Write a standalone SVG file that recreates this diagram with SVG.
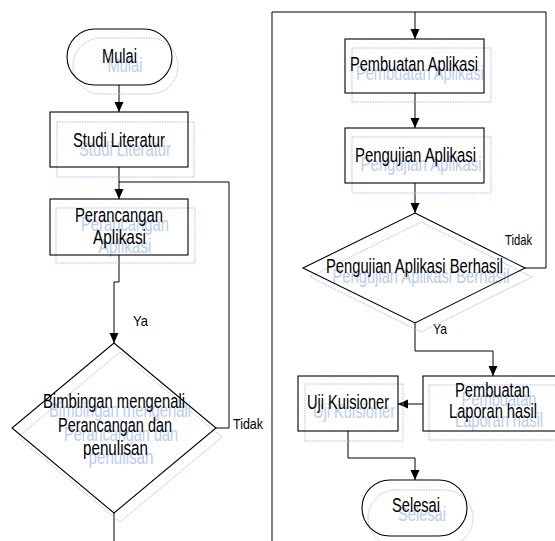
<svg xmlns="http://www.w3.org/2000/svg" width="555" height="541" viewBox="0 0 555 541">
<defs>
<marker id="ah" viewBox="0 0 10 10" refX="10" refY="5" markerWidth="10" markerHeight="10" markerUnits="userSpaceOnUse" orient="auto">
<path d="M0,0.5 L10,5 L0,9.5 Z" fill="#000"/>
</marker>
</defs>
<style>
.shape{fill:none;stroke:#000;stroke-width:1.1}
.ghost{fill:none;stroke:#a9c0e6;stroke-width:1;stroke-dasharray:1.5 1}
.t{font-family:"Liberation Sans",Arial,sans-serif;font-size:20.5px;fill:#000;text-anchor:middle}
.gt{font-family:"Liberation Sans",Arial,sans-serif;font-size:20.5px;fill:#b9cdec;text-anchor:middle}
.lbl{font-family:"Liberation Sans",Arial,sans-serif;font-size:14.5px;fill:#000}
.c{fill:none;stroke:#000;stroke-width:1}
.a{marker-end:url(#ah)}
</style>
<rect width="555" height="541" fill="#fff"/>

<g id="connectors">
<path class="c a" d="M119,85 V112"/>
<path class="c a" d="M119,167 V199"/>
<path class="c" d="M216,428 H229 V182 H119"/>
<path class="c a" d="M119,255 V282 H114 V343"/>
<path class="c" d="M114,513 V541"/>
<path class="c a" d="M272,541 V12 H415 V39"/>
<path class="c" d="M525,268 H546 V12 H415"/>
<path class="c a" d="M415,93 V128"/>
<path class="c a" d="M415,183 V213"/>
<path class="c a" d="M415,323 V351 H493 V376"/>
<path class="c a" d="M423,404 H398"/>
<path class="c a" d="M348,431 V458 H415 V480"/>
<text class="lbl" x="133" y="326" textLength="15" lengthAdjust="spacingAndGlyphs">Ya</text>
<text class="lbl" x="233" y="429" textLength="30" lengthAdjust="spacingAndGlyphs">Tidak</text>
<text class="lbl" x="505" y="245" textLength="27" lengthAdjust="spacingAndGlyphs">Tidak</text>
<text class="lbl" x="433" y="334" textLength="14" lengthAdjust="spacingAndGlyphs">Ya</text>
</g>

<g id="mulai">
<rect class="ghost" x="73" y="38" width="105" height="56" rx="28"/>
<text class="gt" x="125" y="72" textLength="35" lengthAdjust="spacingAndGlyphs">Mulai</text>
<rect class="shape" x="67" y="29" width="105" height="56" rx="28"/>
<text class="t" x="119.5" y="63" textLength="35" lengthAdjust="spacingAndGlyphs">Mulai</text>
</g>

<g id="studi">
<rect class="ghost" x="57" y="122" width="137" height="55"/>
<text class="gt" x="125" y="156" textLength="92" lengthAdjust="spacingAndGlyphs">Studi Literatur</text>
<rect class="shape" x="50" y="112" width="138" height="55"/>
<text class="t" x="119" y="147" textLength="92" lengthAdjust="spacingAndGlyphs">Studi Literatur</text>
</g>

<g id="perancangan">
<rect class="ghost" x="56" y="208" width="139" height="55"/>
<text class="gt" x="125" y="231" textLength="88" lengthAdjust="spacingAndGlyphs">Perancangan</text>
<text class="gt" x="125" y="253" textLength="53" lengthAdjust="spacingAndGlyphs">Aplikasi</text>
<rect class="shape" x="50" y="199" width="138" height="56"/>
<text class="t" x="119" y="222" textLength="88" lengthAdjust="spacingAndGlyphs">Perancangan</text>
<text class="t" x="119.5" y="244" textLength="53" lengthAdjust="spacingAndGlyphs">Aplikasi</text>
</g>

<g id="bimbingan">
<polygon class="ghost" points="120,352 222,437 120,522 18,437"/>
<text class="gt" x="120" y="417" textLength="142" lengthAdjust="spacingAndGlyphs">Bimbingan mengenali</text>
<text class="gt" x="121" y="441" textLength="114" lengthAdjust="spacingAndGlyphs">Perancangan dan</text>
<text class="gt" x="121" y="464" textLength="65" lengthAdjust="spacingAndGlyphs">penulisan</text>
<polygon class="shape" points="114,343 216,428 114,513 12,428"/>
<text class="t" x="114" y="408" textLength="142" lengthAdjust="spacingAndGlyphs">Bimbingan mengenali</text>
<text class="t" x="115" y="432" textLength="114" lengthAdjust="spacingAndGlyphs">Perancangan dan</text>
<text class="t" x="115.5" y="455" textLength="65" lengthAdjust="spacingAndGlyphs">penulisan</text>
</g>

<g id="pembuatan-aplikasi">
<rect class="ghost" x="352" y="48" width="139" height="54"/>
<text class="gt" x="420" y="80" textLength="128" lengthAdjust="spacingAndGlyphs">Pembuatan Aplikasi</text>
<rect class="shape" x="345" y="39" width="139" height="54"/>
<text class="t" x="414" y="71" textLength="128" lengthAdjust="spacingAndGlyphs">Pembuatan Aplikasi</text>
</g>

<g id="pengujian-aplikasi">
<rect class="ghost" x="352" y="137" width="139" height="56"/>
<text class="gt" x="421" y="171" textLength="121" lengthAdjust="spacingAndGlyphs">Pengujian Aplikasi</text>
<rect class="shape" x="345" y="128" width="139" height="55"/>
<text class="t" x="415.5" y="162" textLength="121" lengthAdjust="spacingAndGlyphs">Pengujian Aplikasi</text>
</g>

<g id="pengujian-berhasil">
<polygon class="ghost" points="421,222 532,277 421,332 310,277"/>
<text class="gt" x="421" y="283" textLength="177" lengthAdjust="spacingAndGlyphs">Pengujian Aplikasi Berhasil</text>
<polygon class="shape" points="415,213 525,268 415,323 303,268"/>
<text class="t" x="414.5" y="273" textLength="177" lengthAdjust="spacingAndGlyphs">Pengujian Aplikasi Berhasil</text>
</g>

<g id="pembuatan-laporan">
<rect class="ghost" x="429" y="385" width="140" height="55"/>
<text class="gt" x="499" y="406" textLength="75" lengthAdjust="spacingAndGlyphs">Pembuatan</text>
<text class="gt" x="499" y="427" textLength="88" lengthAdjust="spacingAndGlyphs">Laporan hasil</text>
<rect class="shape" x="423" y="376" width="140" height="55"/>
<text class="t" x="492.5" y="397" textLength="75" lengthAdjust="spacingAndGlyphs">Pembuatan</text>
<text class="t" x="493" y="418" textLength="88" lengthAdjust="spacingAndGlyphs">Laporan hasil</text>
</g>

<g id="uji-kuisioner">
<rect class="ghost" x="305" y="384" width="98" height="57"/>
<text class="gt" x="354" y="418" textLength="82" lengthAdjust="spacingAndGlyphs">Uji Kuisioner</text>
<rect class="shape" x="298" y="376" width="100" height="55"/>
<text class="t" x="348" y="409" textLength="82" lengthAdjust="spacingAndGlyphs">Uji Kuisioner</text>
</g>

<g id="selesai">
<rect class="ghost" x="368" y="490" width="105" height="56" rx="28"/>
<text class="gt" x="422" y="521" textLength="48" lengthAdjust="spacingAndGlyphs">Selesai</text>
<rect class="shape" x="362" y="480" width="105" height="56" rx="28"/>
<text class="t" x="416" y="512" textLength="48" lengthAdjust="spacingAndGlyphs">Selesai</text>
</g>
</svg>
